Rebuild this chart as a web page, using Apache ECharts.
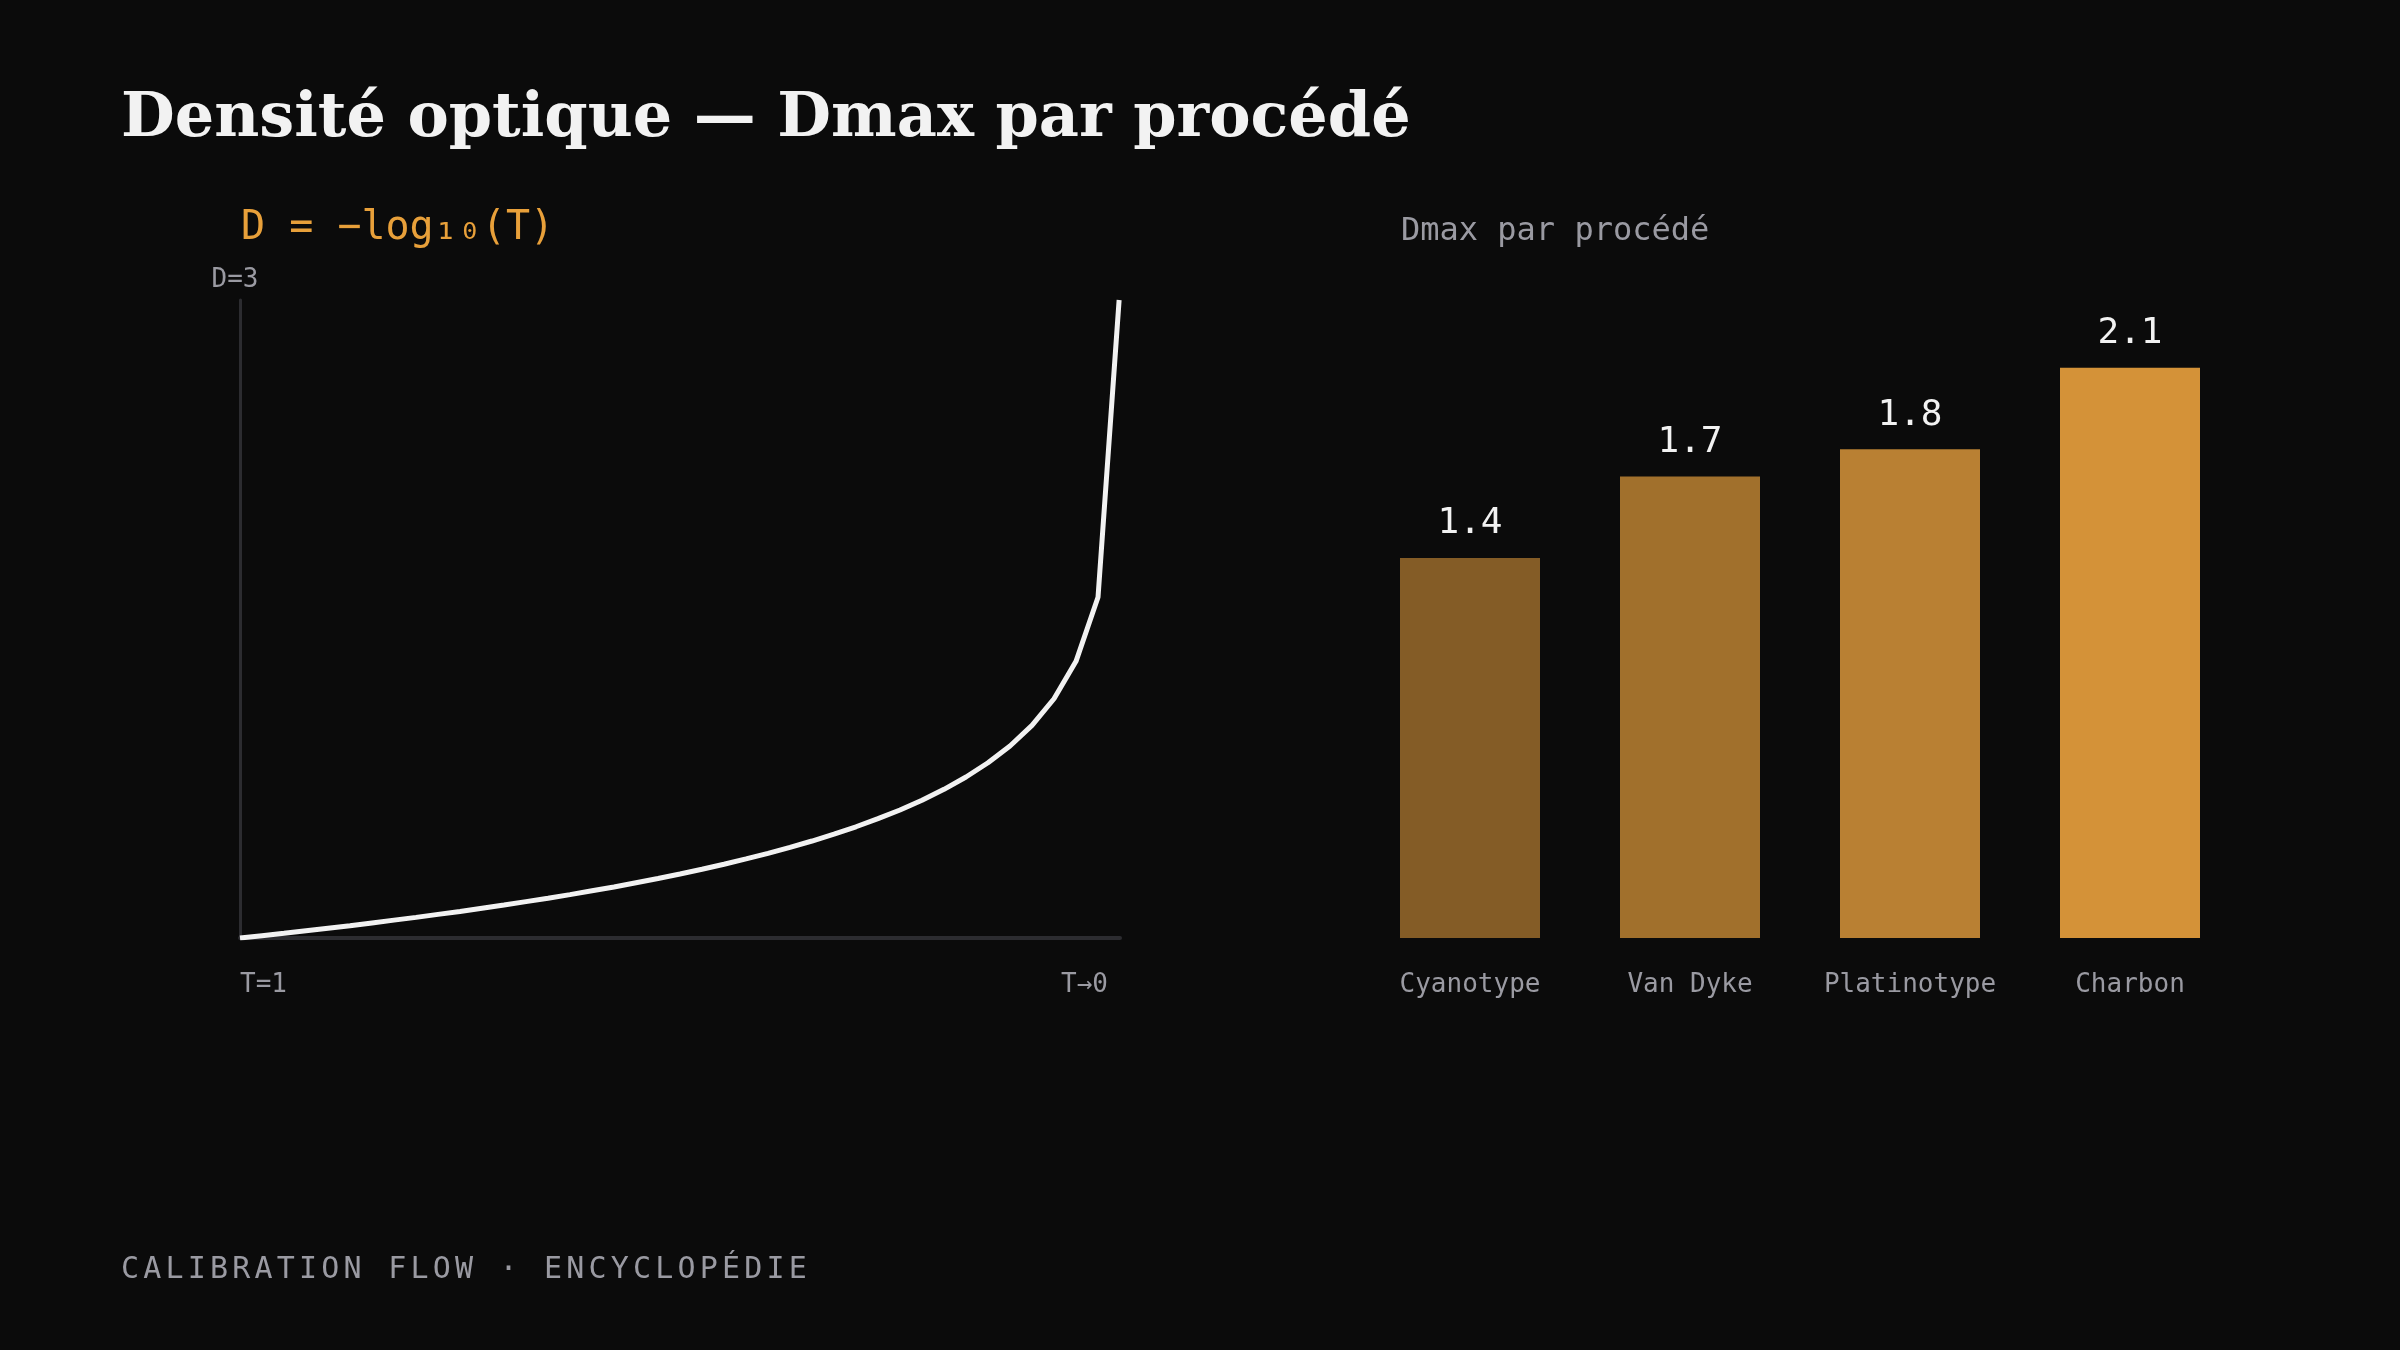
<!DOCTYPE html>
<html>
<head>
<meta charset="utf-8">
<script src="https://cdn.jsdelivr.net/npm/echarts@6/dist/echarts.min.js"></script>
<style>
  html, body { margin: 0; padding: 0; background: #0b0b0b; }
  #chart { width: 2400px; height: 1350px; }
  .footer {
    position: absolute; left: 121px; top: 1253px;
    font-family: "DejaVu Sans Mono", monospace; font-size: 30px; line-height: 30px;
    letter-spacing: 4.2px; color: #9a9aa2;
  }
</style>
</head>
<body>
<div id="chart"></div>
<div class="footer">CALIBRATION FLOW · ENCYCLOPÉDIE</div>
<script>
// courbe D = -log10(T)
const transmission = [1.000, 0.975, 0.950, 0.925, 0.900, 0.875, 0.850, 0.825, 0.800, 0.775,
  0.750, 0.725, 0.700, 0.675, 0.650, 0.625, 0.600, 0.575, 0.550, 0.525,
  0.500, 0.475, 0.450, 0.425, 0.400, 0.375, 0.350, 0.325, 0.300, 0.275,
  0.250, 0.225, 0.200, 0.175, 0.150, 0.125, 0.100, 0.075, 0.050, 0.025, 0.001];
const density = [0.000, 0.011, 0.022, 0.034, 0.046, 0.058, 0.071, 0.084, 0.097, 0.111,
  0.125, 0.140, 0.155, 0.171, 0.187, 0.204, 0.222, 0.240, 0.260, 0.280,
  0.301, 0.323, 0.347, 0.372, 0.398, 0.426, 0.456, 0.488, 0.523, 0.561,
  0.602, 0.648, 0.699, 0.757, 0.824, 0.903, 1.000, 1.125, 1.301, 1.602, 3.000];

// Dmax par procédé
const processes = ['Cyanotype', 'Van Dyke', 'Platinotype', 'Charbon'];
const dmax = [1.4, 1.7, 1.8, 2.1];
const barColors = ['#845c26', '#a1702c', '#b98033', '#d49238'];

const mono = '"DejaVu Sans Mono", monospace';
const grey = '#9a9aa2';

const chart = echarts.init(document.getElementById('chart'));
chart.setOption({
  backgroundColor: '#0b0b0b',
  animation: false,
  title: [
    {
      text: 'Densité optique — Dmax par procédé',
      left: 116, top: 84,
      textStyle: { fontFamily: '"DejaVu Serif", serif', fontWeight: 'bold', fontSize: 62, color: '#f2f2f2' }
    },
    {
      text: 'D = −log₁₀(T)',
      left: 236, top: 204,
      textStyle: { fontFamily: mono, fontWeight: 'normal', fontSize: 40, color: '#e8a03a' }
    },
    {
      text: 'Dmax par procédé',
      left: 1396, top: 211,
      textStyle: { fontFamily: mono, fontWeight: 'normal', fontSize: 32, color: grey }
    }
  ],
  grid: [
    { left: 240, right: 1280, top: 300, bottom: 412 },
    { left: 1360, right: 160, top: 300, bottom: 412 }
  ],
  xAxis: [
    {
      gridIndex: 0, type: 'value', min: 0, max: 1, interval: 1, inverse: true,
      axisLine: { lineStyle: { color: '#2c2c30', width: 4 } },
      axisTick: { show: false },
      splitLine: { show: false },
      axisLabel: {
        color: grey, fontFamily: mono, fontSize: 26, margin: 34,
        alignMinLabel: 'right', alignMaxLabel: 'left',
        formatter: v => (v === 1 ? 'T=1' : '{r|T→0}'),
        rich: { r: { color: grey, fontFamily: mono, fontSize: 26, padding: [0, 12, 0, 0] } }
      }
    },
    {
      gridIndex: 1, type: 'category', data: processes,
      axisLine: { show: false },
      axisTick: { show: false },
      axisLabel: { color: grey, fontFamily: mono, fontSize: 26, margin: 34, interval: 0 }
    }
  ],
  yAxis: [
    {
      gridIndex: 0, type: 'value', min: 0, max: 3, position: 'left',
      name: 'D=3', nameLocation: 'end', nameGap: 7,
      nameTextStyle: { color: grey, fontFamily: mono, fontSize: 26, padding: [0, 10, 0, 0] },
      axisLine: { show: true, onZero: false, lineStyle: { color: '#2c2c30', width: 3 } },
      axisTick: { show: false },
      axisLabel: { show: false },
      splitLine: { show: false }
    },
    {
      gridIndex: 1, type: 'value', min: 0, max: 2.35,
      axisLine: { show: false }, axisTick: { show: false },
      axisLabel: { show: false }, splitLine: { show: false }
    }
  ],
  series: [
    {
      type: 'line', xAxisIndex: 0, yAxisIndex: 0,
      data: transmission.map((t, i) => [t, density[i]]),
      showSymbol: false, smooth: false,
      lineStyle: { color: '#f2f2f2', width: 5 }
    },
    {
      type: 'bar', xAxisIndex: 1, yAxisIndex: 1,
      data: dmax.map((v, i) => ({ value: v, itemStyle: { color: barColors[i] } })),
      barWidth: 140,
      label: {
        show: true, position: 'top', distance: 16,
        color: '#f2f2f2', fontFamily: mono, fontSize: 36
      }
    }
  ]
});
</script>
</body>
</html>
